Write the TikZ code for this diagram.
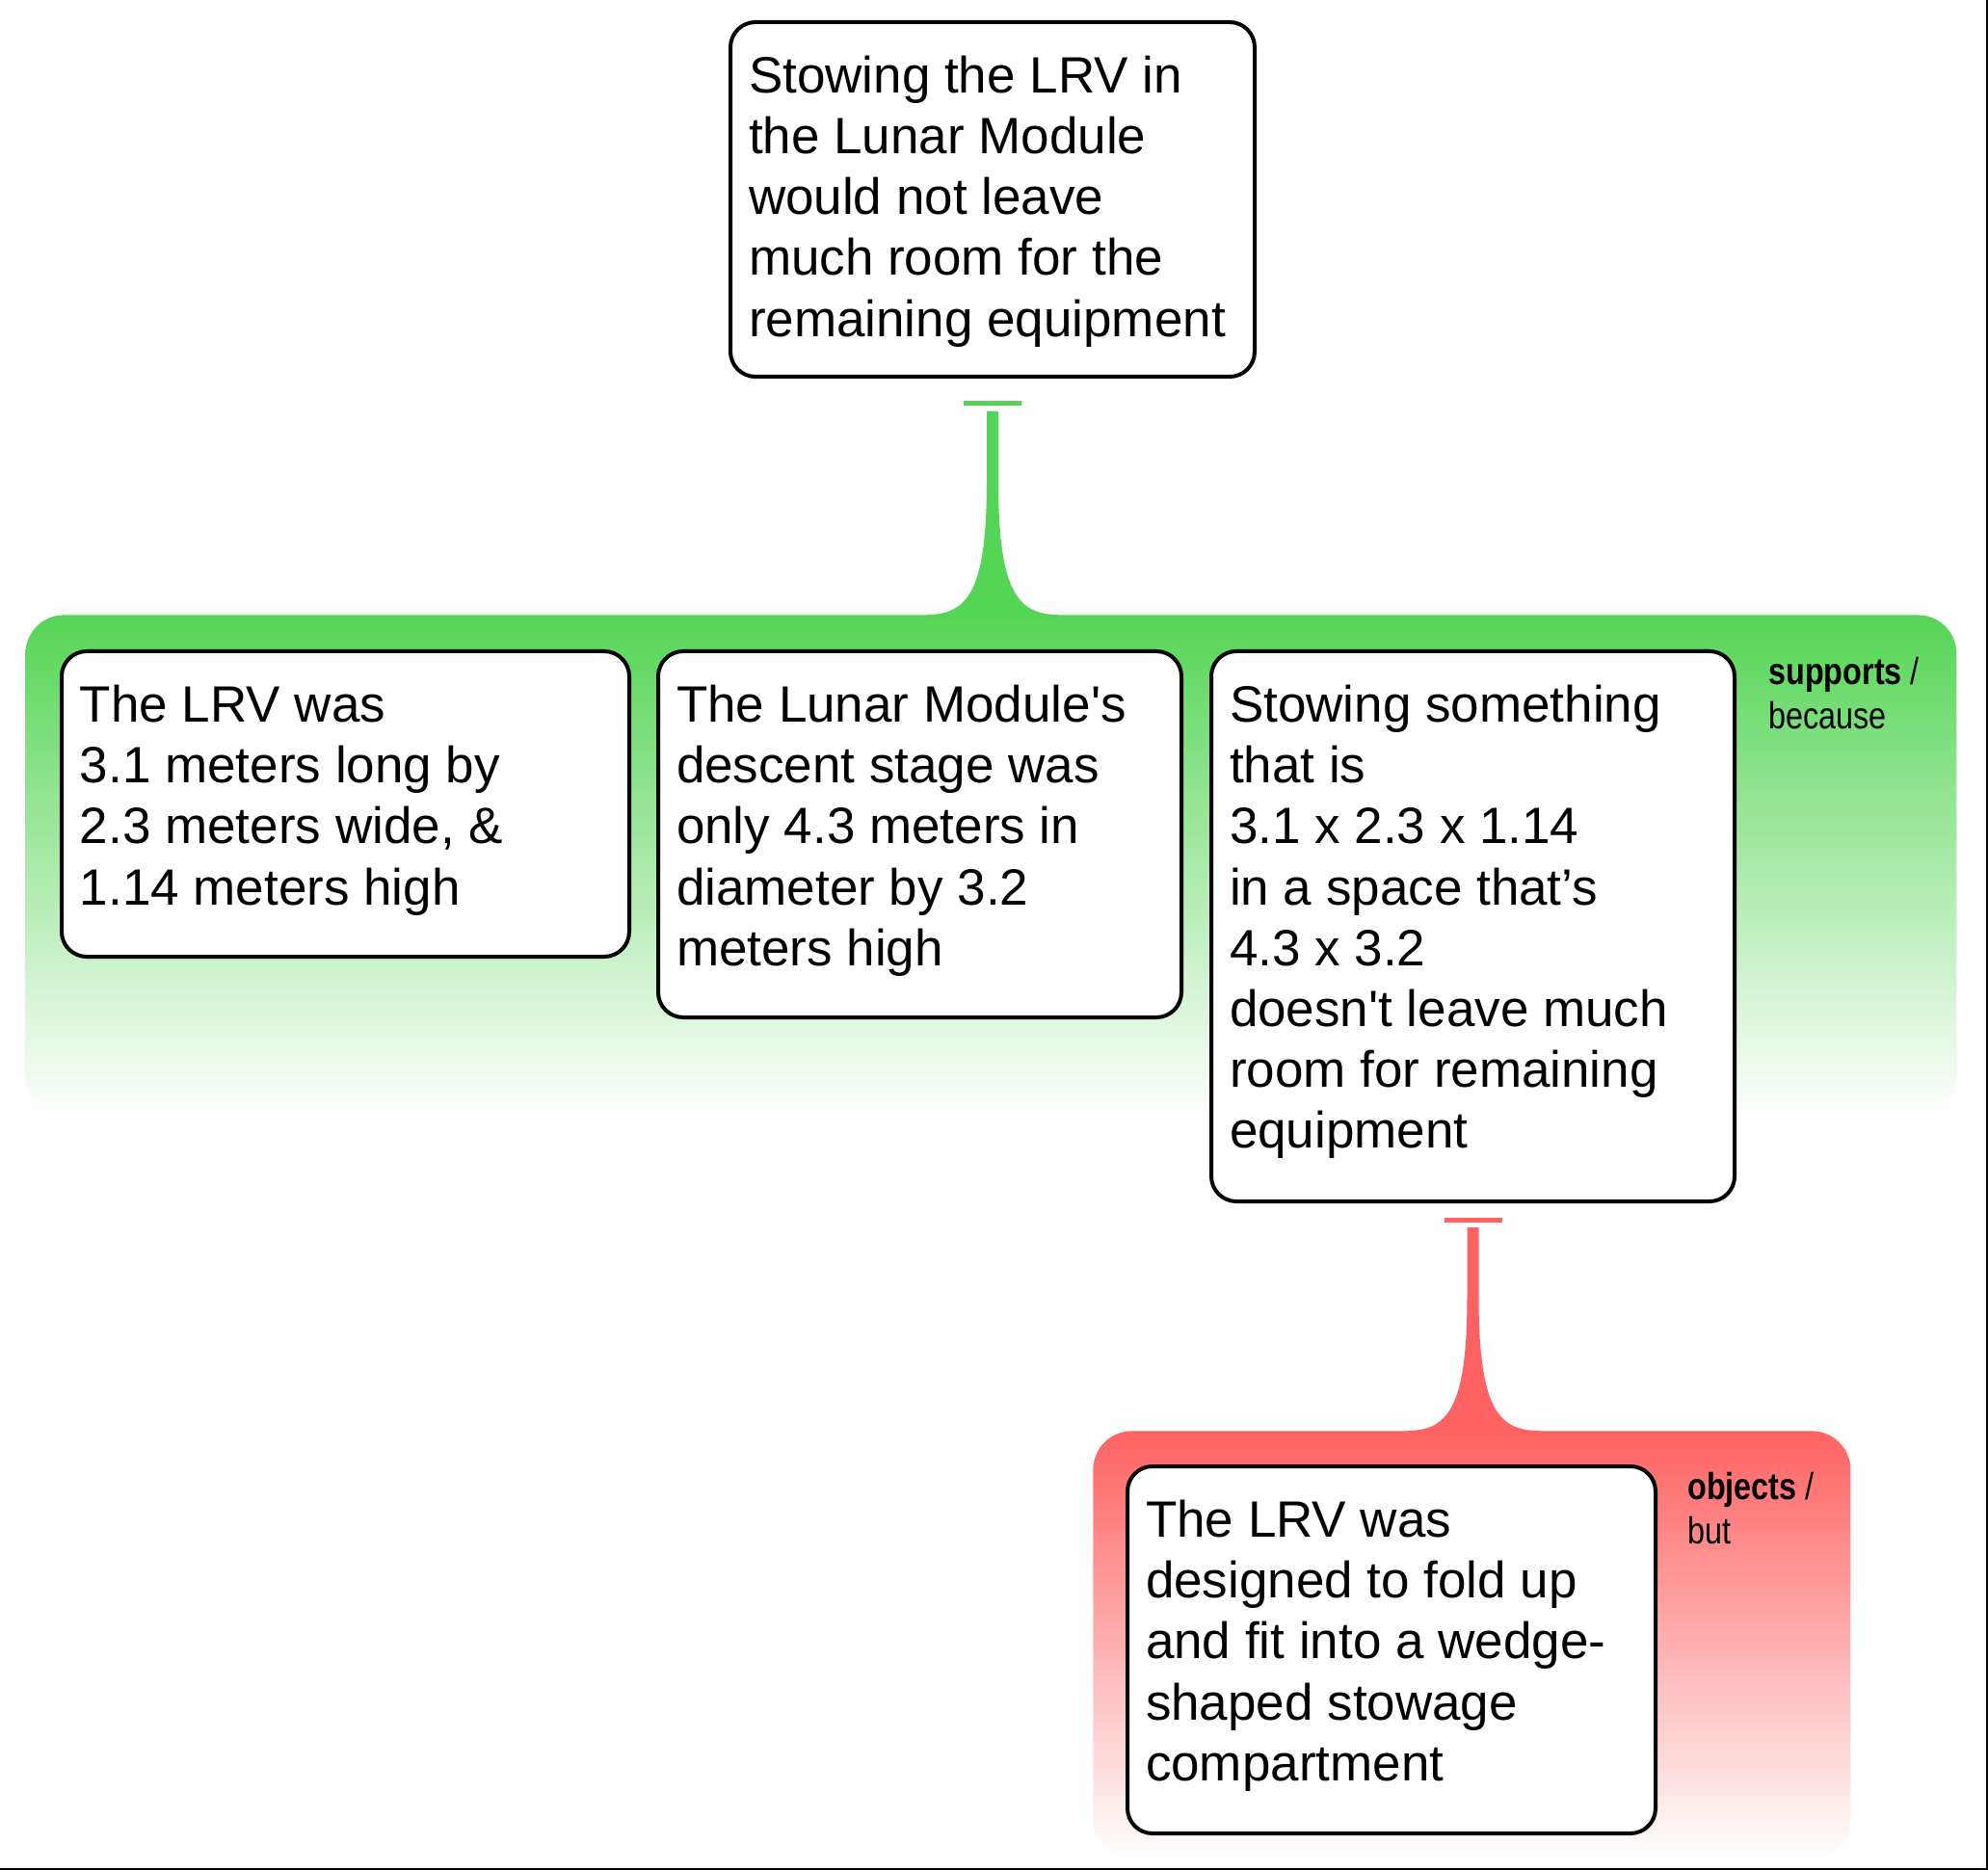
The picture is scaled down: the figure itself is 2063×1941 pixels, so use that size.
\documentclass[tikz,border=0pt]{standalone}
\usepackage{fontspec}
\newfontfamily\argfont{Liberation Sans}
\newfontfamily\linkfont{Liberation Sans}[FakeStretch=0.83]
\usetikzlibrary{positioning,calc}
\definecolor{supgreen}{RGB}{85,213,85}
\definecolor{objred}{RGB}{255,98,98}
\tikzset{
  claim/.style={draw,line width=2pt,rounded corners=13pt,fill=white,
    inner xsep=9.5pt,inner ysep=9.5pt,anchor=north west,
    font=\argfont\fontsize{26.5pt}{31.6pt}\selectfont},
  reason/.style={anchor=north west,rounded corners=20pt,inner sep=0pt,
    minimum width=#1,bottom color=white},
  linklabel/.style={anchor=north west,inner sep=0pt,align=left,
    font=\linkfont\fontsize{19.5pt}{23pt}\selectfont}
}
% text of a box: height, width, lines
\newcommand\claimtext[3]{\parbox[c][#1][t]{#2}{\vspace*{8pt}#3}}
% stem from a box down to its group: from, to, colour, bar gap
\newcommand\linkstem[4]{%
  \coordinate (foot) at (#1.south |- #2.north);
  \draw[#3,line width=2.5pt] ([xshift=-15pt,yshift=-#4]#1.south)
    -- ([xshift=15pt,yshift=-#4]#1.south);
  \fill[#3] ([xshift=-3pt,yshift=-#4-4pt]#1.south) -- ([xshift=-3pt,yshift=70pt]foot)
    .. controls ([xshift=-3pt,yshift=14pt]foot) and ([xshift=-12pt]foot) .. ([xshift=-34pt]foot)
    -- ([xshift=-34pt,yshift=-3pt]foot) -- ([xshift=34pt,yshift=-3pt]foot) -- ([xshift=34pt]foot)
    .. controls ([xshift=12pt]foot) and ([xshift=3pt,yshift=14pt]foot) .. ([xshift=3pt,yshift=70pt]foot)
    -- ([xshift=3pt,yshift=-#4-4pt]#1.south) -- cycle;
}
\begin{document}
\begin{tikzpicture}[x=0.5pt,y=-0.5pt]
  \useasboundingbox (0,0) rectangle (2063,1941);
  %
  % Groups
  \node[reason=1002pt,minimum height=260pt,top color=supgreen] (supports) at (26,638) {};
  \node[reason=393pt,minimum height=222pt,top color=objred] (objects) at (1134,1485) {};
  %
  % Claims
  \node[claim] (stowing) at (756,21) {\claimtext{165pt}{253pt}{%
    Stowing the LRV in\\the Lunar Module\\would not leave\\much room for the\\remaining equipment}};
  \node[claim] (lrvsize) at (62,674) {\claimtext{139.5pt}{275.5pt}{%
    The LRV was\\3.1 meters long by\\2.3 meters wide, \&\\1.14 meters high}};
  \node[claim] (lmsize) at (681,674) {\claimtext{171pt}{252.5pt}{%
    The Lunar Module's\\descent stage was\\only 4.3 meters in\\diameter by 3.2\\meters high}};
  \node[claim] (nofit) at (1255,674) {\claimtext{266.5pt}{252.5pt}{%
    Stowing something\\that is\\3.1 x 2.3 x 1.14\\in a space that’s\\4.3 x 3.2\\doesn't leave much\\room for remaining\\equipment}};
  \node[claim] (folds) at (1168,1520) {\claimtext{171.5pt}{255pt}{%
    The LRV was\\designed to fold up\\and fit into a wedge-\\shaped stowage\\compartment}};
  %
  % Labels
  \node[linklabel] (suplabel) at ([xshift=16.5pt,yshift=-4pt]nofit.north east) {\textbf{supports} /\\because};
  \node[linklabel] (objlabel) at ([xshift=15.5pt,yshift=-4pt]folds.north east) {\textbf{objects} /\\but};
  %
  % Stems
  \linkstem{stowing}{supports}{supgreen}{13pt}
  \linkstem{nofit}{objects}{objred}{8.5pt}
  %
  % Frame
  \draw[line width=1pt] (2062,0) -- (2062,1940) -- (0,1940);
\end{tikzpicture}
\end{document}
